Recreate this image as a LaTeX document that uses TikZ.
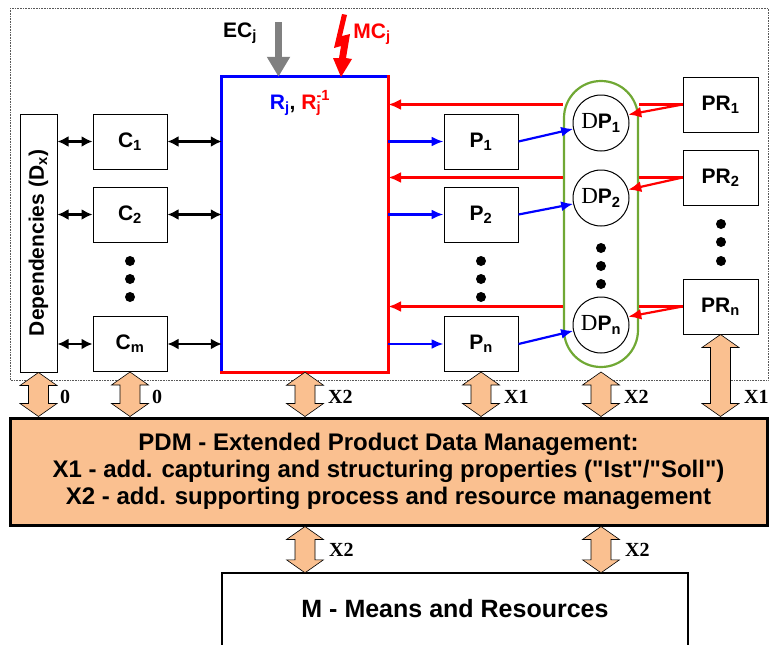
\documentclass[tikz,border=0pt]{standalone}
\usepackage{fontspec}
\setmainfont{Liberation Sans}
\newfontfamily\timesfont{Liberation Serif}
\usepackage{xcolor}
\usepackage{tikz}
\usetikzlibrary{calc, positioning, arrows.meta}

\definecolor{pdmorange}{HTML}{FAC090}
\definecolor{dpgreen}{RGB}{112,168,52}

% orange double block arrow between two nodes (vertical)
\newcommand{\pdmarrow}[2]{%
  \draw[pdmflow] let \p1=#1, \p2=#2 in
    (\x1,\y1) -- (\x1+18.5pt,\y1-13pt) -- (\x1+10pt,\y1-13pt) -- (\x1+10pt,\y2+13pt)
    -- (\x1+18.5pt,\y2+13pt) -- (\x1,\y2) -- (\x1-18.5pt,\y2+13pt) -- (\x1-10pt,\y2+13pt)
    -- (\x1-10pt,\y1-13pt) -- (\x1-18.5pt,\y1-13pt) -- cycle;}

\begin{document}
\begin{tikzpicture}[
    x=1pt, y=-1pt,
    box/.style={rectangle, draw, fill=white, line width=1pt, minimum width=74pt, minimum height=55pt, inner sep=0pt, font=\fontsize{21}{24}\selectfont\bfseries},
    prbox/.style={box, minimum width=75pt},
    dp/.style={circle, draw, fill=white, line width=1pt, minimum size=56pt, inner sep=0pt, font=\fontsize{21}{24}\selectfont\bfseries},
    bi/.style={line width=2.4pt, {Latex[length=11pt,width=11pt]}-{Latex[length=11pt,width=11pt]}},
    bluearr/.style={blue, line width=2.2pt, -{Latex[length=12pt,width=10pt]}},
    redarr/.style={red, line width=2.2pt, -{Latex[length=13pt,width=11pt]}},
    redline/.style={red, line width=2.2pt},
    % --- block arrows and their labels ---
    pdmflow/.style={draw, line width=0.6pt, fill=pdmorange},
    flowlbl/.style={anchor=west, inner sep=0pt, font=\timesfont\fontsize{20}{22}\selectfont\bfseries},
    lbl/.style={inner sep=0pt, font=\fontsize{21}{24}\selectfont\bfseries}
]
\useasboundingbox (0,0) rectangle (774,645);

% Frame
\draw[densely dotted, line width=0.6pt, gray!70!black] (10,8) rectangle (768,380);

% Dependencies and C column
\node[box, minimum width=37pt, minimum height=258pt] (dep) at (38.5,243) {\rotatebox{90}{Dependencies (D\textsubscript{x})}};
\node[box] (C1) at (130,141.5) {C\textsubscript{1}};
\node[box] (C2) at (130,214.5) {C\textsubscript{2}};
\node[box] (Cm) at (130,344) {C\textsubscript{m}};

% R box
\node[minimum width=166pt, minimum height=295pt, inner sep=0pt] (R) at (305,224.5) {};
\draw[blue, line width=3pt] (R.south west) -- (R.north west) -- (R.north east);
\draw[red, line width=3pt, line cap=rect] (R.north east) -- (R.south east) -- (R.south west);
\node[lbl] (Rlbl) at (300,103) {\textcolor{blue}{R\textsubscript{j}}, \textcolor{red}{R\rlap{\textsubscript{j}}\raisebox{1pt}{\textsuperscript{-1}}}};

% EC and MC
\coordinate (ec) at (278.5,22);
\draw[gray, line width=7pt, -{Triangle[length=20pt,width=22pt]}] (ec) -- (ec |- R.north);
\node[lbl] (EC) at (240,33) {EC\textsubscript{j}};
\fill[red] (342,14) -- (347,15) -- (342,36) -- (350,34) -- (346,58) -- (352,59) -- (341,77)
    -- (333,58) -- (339,58) -- (341,46) -- (334,48) -- cycle;
\node[lbl, red] (MC) at (372,34) {MC\textsubscript{j}};

% P column
\node[box] (P1) at (481,141.5) {P\textsubscript{1}};
\node[box] (P2) at (481,214.5) {P\textsubscript{2}};
\node[box] (Pn) at (481,344) {P\textsubscript{n}};

% PR column
\node[prbox] (PR1) at (720.5,104.5) {PR\textsubscript{1}};
\node[prbox] (PR2) at (720.5,177.5) {PR\textsubscript{2}};
\node[prbox] (PRn) at (720.5,306.5) {PR\textsubscript{n}};

% DP column
\node[draw=dpgreen, line width=2.2pt, fill=white, rounded corners=36.9pt, minimum width=74pt, minimum height=286pt] (dpbox) at (601,224) {};
\node[dp] (DP1) at (601,123) {{\timesfont\mdseries\fontsize{23}{24}\selectfont D}P\textsubscript{1}};
\node[dp] (DP2) at (601,198) {{\timesfont\mdseries\fontsize{23}{24}\selectfont D}P\textsubscript{2}};
\node[dp] (DPn) at (601,325) {{\timesfont\mdseries\fontsize{23}{24}\selectfont D}P\textsubscript{n}};

% dots
\foreach \y in {261,279,297} {
    \fill (130,\y) circle (5pt);
    \fill (481,\y) circle (5pt);
}
\foreach \y in {248,266,284} \fill (601,\y) circle (5pt);
\foreach \y in {224,242,261} \fill (721,\y) circle (5pt);

% connectors
\foreach \c in {C1,C2,Cm} {
    \draw[bi] (dep.east |- \c.west) -- (\c.west);
    \draw[bi] (\c.east) -- (R.west |- \c.east);
}
\foreach \p/\d in {P1/DP1,P2/DP2,Pn/DPn} {
    \draw[bluearr] (R.east |- \p.west) -- (\p.west);
    \draw[bluearr] (\p.east) -- (\d.192);
}
\foreach \r/\d in {PR1/DP1,PR2/DP2,PRn/DPn} {
    \draw[redline] (\r.west) -- (\r.west -| dpbox.east);
    \draw[redarr] (\r.west -| dpbox.west) -- (\r.west -| R.east);
    \draw[redarr] (\r.west) -- (\d.17);
}

% PDM and M
\node[draw, line width=3pt, fill=pdmorange, minimum width=757pt, minimum height=107pt, align=center, font=\fontsize{24}{27}\selectfont\bfseries] (pdm) at (388.5,471.5)
    {PDM - Extended Product Data Management:\\
     X1 - add. capturing and structuring properties (\textquotedbl Ist\textquotedbl/\textquotedbl Soll\textquotedbl)\\
     X2 - add. supporting process and resource management};
\node[minimum width=466pt, minimum height=72pt, inner sep=0pt, font=\fontsize{25}{28}\selectfont\bfseries] (M) at (455,609) {M - Means and Resources};
\draw[line width=2pt] (M.south west) |- (M.north east) -- (M.south east);

% block arrows
\pdmarrow{(dep.south)}{(dep.south |- pdm.north)}
\pdmarrow{(Cm.south)}{(Cm.south |- pdm.north)}
\pdmarrow{(R.south)}{(R.south |- pdm.north)}
\pdmarrow{(Pn.south)}{(Pn.south |- pdm.north)}
\pdmarrow{(dpbox.south |- Pn.south)}{(dpbox.south |- pdm.north)}
\pdmarrow{(PRn.south)}{(PRn.south |- pdm.north)}
\pdmarrow{(R.south |- pdm.south)}{(R.south |- M.north)}
\pdmarrow{(dpbox.south |- pdm.south)}{(dpbox.south |- M.north)}

\node[flowlbl] (f1) at (60,397) {0};
\node[flowlbl] (f2) at (152,397) {0};
\node[flowlbl] (f3) at (328,397) {X2};
\node[flowlbl] (f4) at (504,397) {X1};
\node[flowlbl] (f5) at (624,397) {X2};
\node[flowlbl] (f6) at (744,397) {X1};
\node[flowlbl] (f7) at (329,550) {X2};
\node[flowlbl] (f8) at (625,550) {X2};
\end{tikzpicture}
\end{document}
